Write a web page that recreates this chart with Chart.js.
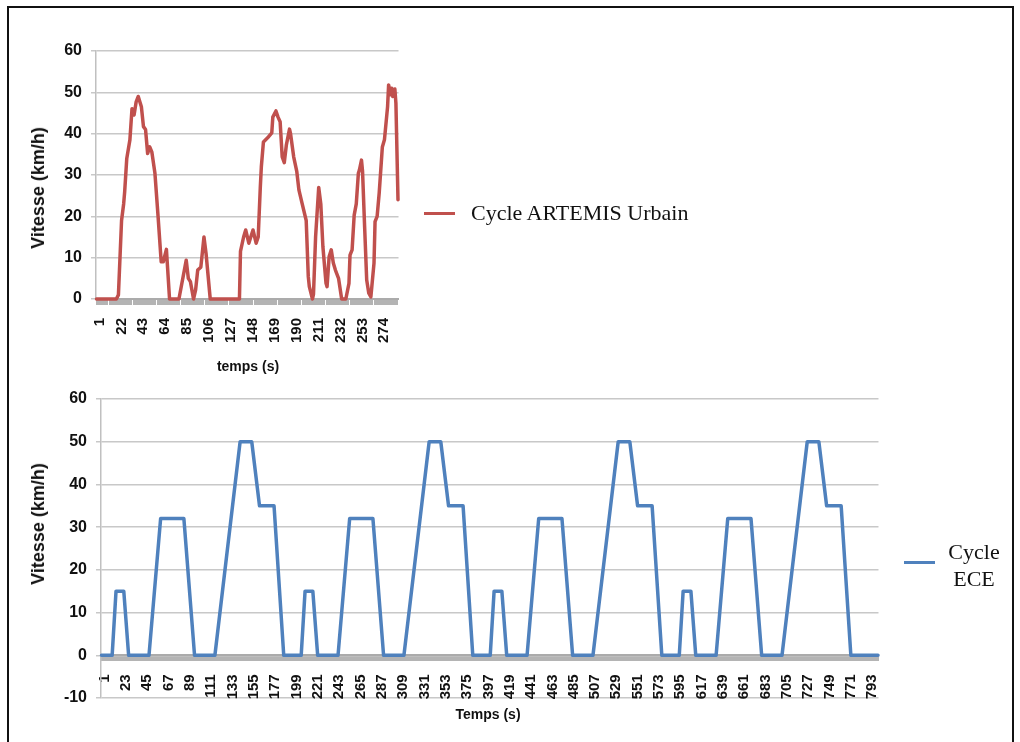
<!DOCTYPE html>
<html>
<head>
<meta charset="utf-8">
<script src="https://cdn.jsdelivr.net/npm/chart.js@4.4.1/dist/chart.umd.min.js"></script>
<style>
  body { margin: 0; background: #fff; width: 1020px; height: 742px; overflow: hidden; position: relative; font-family: "Liberation Sans", Arial, sans-serif; }
  #frame { position: absolute; left: 7px; top: 6px; width: 1007px; height: 760px; border: 2px solid #111; box-sizing: border-box; }
  .box { position: absolute; }
  .axis-title { position: absolute; font-weight: bold; color: #111; white-space: nowrap; line-height: 1; transform: translate(-50%, -50%); }
  .axis-title.vert { transform: translate(-50%, -50%) rotate(-90deg); }
  .legend-line { position: absolute; width: 31px; height: 3px; }
  .legend-text { position: absolute; font-family: "Liberation Serif", "Times New Roman", serif; font-size: 22px; color: #111; line-height: 27px; }
</style>
</head>
<body>
<div id="frame"></div>

<div class="box" style="left:0;top:0;width:430px;height:400px"><canvas id="artemisChart"></canvas></div>
<div class="axis-title vert" style="left:38px;top:188px;font-size:18px">Vitesse (km/h)</div>
<div class="axis-title" style="left:248px;top:366px;font-size:14px">temps (s)</div>
<div class="legend-line" style="left:424px;top:212px;background:#c0504d"></div>
<div class="legend-text" style="left:471px;top:212px;transform:translateY(-50%)">Cycle ARTEMIS Urbain</div>

<div class="box" style="left:0;top:380px;width:910px;height:362px"><canvas id="eceChart"></canvas></div>
<div class="axis-title vert" style="left:38px;top:524px;font-size:18px">Vitesse (km/h)</div>
<div class="axis-title" style="left:488px;top:714px;font-size:14px">Temps (s)</div>
<div class="legend-line" style="left:904px;top:561px;background:#4f81bd"></div>
<div class="legend-text" style="left:974px;top:565px;transform:translate(-50%,-50%);text-align:center">Cycle<br>ECE</div>

<script>
// Cycle ARTEMIS urbain : sommets de la courbe (temps en s, vitesse en km/h)
const artemisTime = [1, 20, 22, 25, 27, 28, 30, 33, 35, 37,
    39, 41, 44, 46, 48, 50, 52, 54, 57, 60,
    63, 65, 68, 71, 80, 87, 89, 91, 94, 96,
    98, 101, 104, 106, 110, 138, 139, 142, 144, 147,
    151, 154, 156, 158, 159, 161, 165, 169, 170, 173,
    175, 177, 179, 181, 183, 186, 187, 190, 193, 195,
    198, 202, 204, 205, 208, 209, 211, 214, 216, 218,
    221, 222, 224, 226, 228, 230, 233, 236, 240, 243,
    244, 246, 248, 250, 252, 253, 255, 256, 258, 260,
    262, 264, 267, 268, 270, 272, 275, 277, 280, 281,
    283, 284, 285, 287, 288, 290];
const artemisSpeed = [0, 0, 1, 19, 23, 26, 34, 38.5, 46, 44.5,
    47.7, 49, 46.5, 41.7, 41, 35.2, 36.8, 35.6, 30.4, 20,
    9, 9, 12, 0, 0, 9.4, 5, 4.2, 0, 2.2,
    7, 7.7, 15, 11, 0, 0, 11.5, 15, 16.7, 13.5,
    16.7, 13.5, 15, 27, 32, 38, 39, 40.2, 44, 45.5,
    44, 42.9, 34.4, 33, 37.3, 41.1, 40, 34.4, 30.8, 26.4,
    23.2, 19, 5.4, 3, 0, 1.2, 15, 27, 23, 12.7,
    3.8, 3, 10.3, 11.9, 8.7, 7, 5, 0, 0, 3.8,
    10.6, 11.9, 20.3, 23, 30.4, 31.2, 33.6, 31, 17.5, 4.6,
    1.4, 0.5, 8.7, 18.7, 20, 25.7, 36.8, 38.5, 46.5, 51.8,
    49.4, 51, 49, 50.8, 47.4, 24];
const artemisTicks = [1, 22, 43, 64, 85, 106, 127, 148, 169, 190, 211, 232, 253, 274];

// Cycle ECE : 4 motifs urbains
const eceTime = [1, 12, 16, 24, 29, 50, 62, 86, 97, 118, 144, 156, 164, 179, 189,
    207, 211, 219, 224, 245, 257, 281, 292, 313, 339, 351, 359, 374, 384,
    402, 406, 414, 419, 440, 452, 476, 487, 508, 534, 546, 554, 569, 579,
    597, 601, 609, 614, 635, 647, 671, 682, 703, 729, 741, 749, 764, 774, 802];
const eceSpeed = [0, 0, 15, 15, 0, 0, 32, 32, 0, 0, 50, 50, 35, 35, 0,
    0, 15, 15, 0, 0, 32, 32, 0, 0, 50, 50, 35, 35, 0,
    0, 15, 15, 0, 0, 32, 32, 0, 0, 50, 50, 35, 35, 0,
    0, 15, 15, 0, 0, 32, 32, 0, 0, 50, 50, 35, 35, 0, 0];
const eceTicks = [1, 23, 45, 67, 89, 111, 133, 155, 177, 199, 221, 243, 265, 287,
    309, 331, 353, 375, 397, 419, 441, 463, 485, 507, 529, 551, 573, 595,
    617, 639, 661, 683, 705, 727, 749, 771, 793];

const TEXT_COLOR = '#111';

function speedChart(canvasId, times, speeds, color, labels, lastCat, yMin, pad, yWidth) {
    const points = times.map((t, i) => ({ x: t, y: speeds[i] }));

    return new Chart(document.getElementById(canvasId), {
        type: 'line',
        data: {
            datasets: [{
                data: points,
                borderColor: color,
                borderWidth: 3.5,
                borderJoinStyle: 'round',
                borderCapStyle: 'round',
                pointRadius: 0,
                tension: 0,
                clip: 4
            }]
        },
        options: {
            responsive: true,
            maintainAspectRatio: false,
            animation: false,
            layout: { padding: pad },
            plugins: {
                legend: { display: false },
                tooltip: { enabled: false }
            },
            scales: {
                x: {
                    type: 'linear',
                    position: { y: 0 },
                    min: 0.5,
                    max: lastCat + 0.5,
                    // one little tick mark per second, like the Excel category axis
                    afterBuildTicks: axis => {
                        const ticks = [];
                        for (let v = 1; v <= lastCat; v++) ticks.push({ value: v });
                        axis.ticks = ticks;
                    },
                    ticks: {
                        autoSkip: false,
                        minRotation: 90,
                        maxRotation: 90,
                        padding: 14,
                        labelOffset: 3,
                        color: TEXT_COLOR,
                        font: { family: 'Liberation Sans', size: 15, weight: 'bold' },
                        callback: v => labels.includes(v) ? String(v) : ''
                    },
                    grid: { drawOnChartArea: false, drawTicks: true, tickLength: 5, color: '#b4b4b4' },
                    border: { color: '#ababab', width: 2 }
                },
                y: {
                    min: yMin,
                    max: 60,
                    afterFit: axis => { axis.width = yWidth; },
                    ticks: {
                        stepSize: 10,
                        padding: 9,
                        color: TEXT_COLOR,
                        font: { family: 'Liberation Sans', size: 16, weight: 'bold' }
                    },
                    grid: { color: '#c8c8c8', lineWidth: 1.5, tickLength: 5 },
                    border: { color: '#c0c0c0', width: 1.5 }
                }
            }
        }
    });
}

speedChart('artemisChart', artemisTime, artemisSpeed, '#c0504d', artemisTicks, 290, 0,
    { left: 0, top: 51, right: 0, bottom: 101 }, 96);

speedChart('eceChart', eceTime, eceSpeed, '#4f81bd', eceTicks, 802, -10,
    { left: 0, top: 19, right: 0, bottom: 44 }, 101);
</script>
</body>
</html>
